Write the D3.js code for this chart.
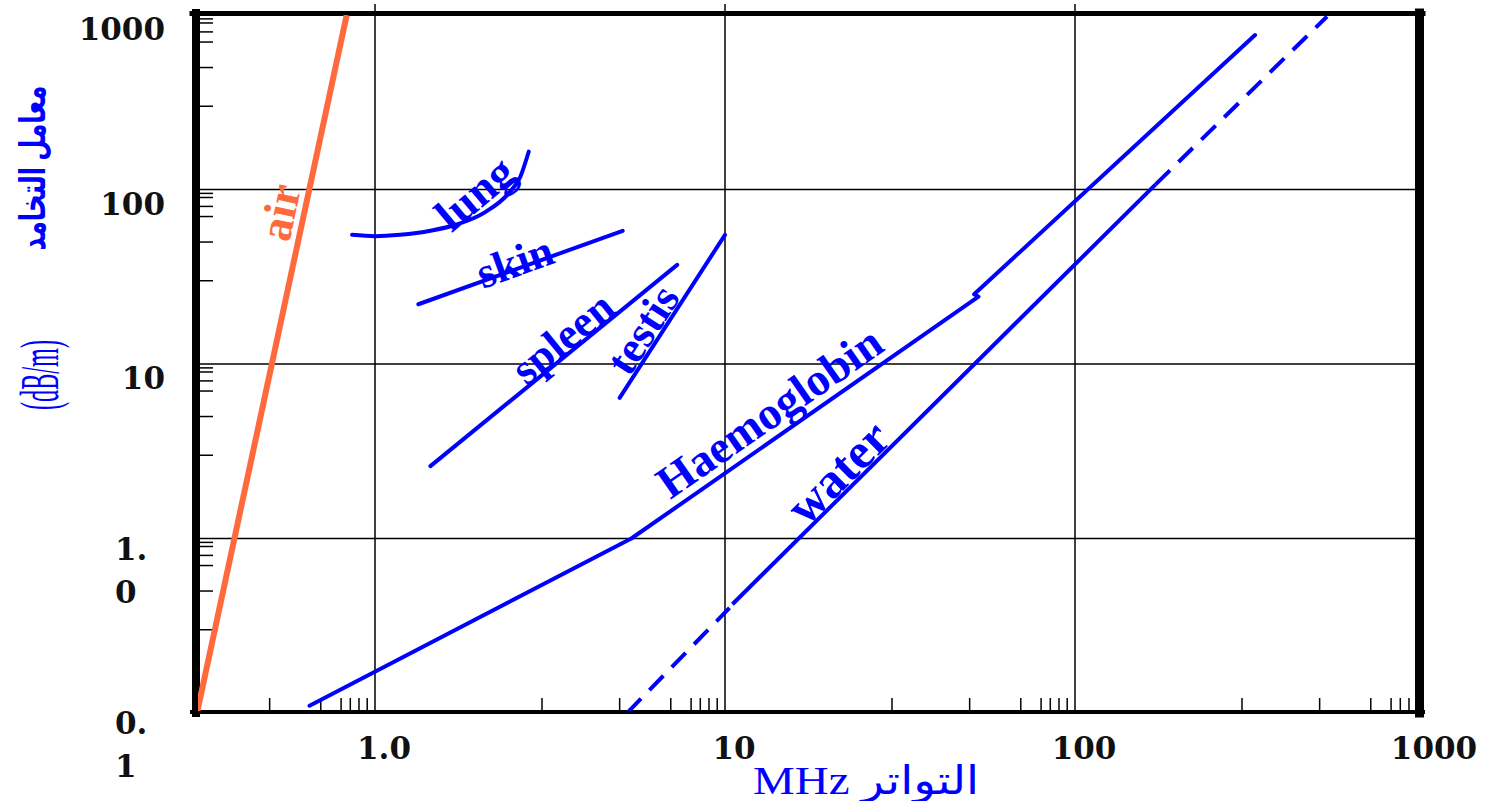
<!DOCTYPE html>
<html>
<head>
<meta charset="utf-8">
<script src="https://cdn.jsdelivr.net/npm/d3@7"></script>
<style>
  body { margin: 0; background: #fff; }
</style>
</head>
<body>
<div id="chart"></div>
<script>
// attenuation coefficient vs frequency, log-log
const airPts    = [[0.31, 0.1], [0.83, 1000]];
const lungPts   = [[0.86, 55], [1.0, 54], [1.18, 55], [1.44, 58], [1.71, 63], [2.06, 74], [2.43, 97], [2.6, 118], [2.75, 165]];
const skinPts   = [[1.33, 22], [5.1, 58]];
const spleenPts = [[1.44, 2.6], [7.3, 37]];
const testisPts = [[5.0, 6.4], [10, 55]];
const haemoPts  = [[0.65, 0.11], [5.4, 1.0], [53, 24.3], [51.5, 25.1], [327, 768]];
const waterPts  = [[5.25, 0.1], [10.3, 0.4], [10.5, 0.42], [170, 107], [525, 980]];
const waterDashed = [true, null, false, true];   // null = gap

const xMajor = [1, 10, 100, 1000];
const xMajorLabels = ["1.0", "10", "100", "1000"];
const yMajor = [0.1, 1, 10, 100, 1000];
const yMajorLabels = [["0.", "1"], ["1.", "0"], ["10"], ["100"], ["1000"]];
const gridVals = [1, 10, 100];
const decades = [0.1, 1, 10, 100];
const xMinorMult = [3, 5, 7, 8, 8.5, 9, 9.5];
const yMinorMult = [3, 5, 7, 8, 9, 9.5];

// curve names and where they sit (data coords of the text centre)
const curveNames = ["air", "lung", "skin", "spleen", "testis", "Haemoglobin", "water"];
const namePos = [[0.535, 74], [1.93, 95], [2.51, 38.4], [3.44, 14.1], [5.83, 15.7], [13.4, 5.3], [21, 2.4]];

const W = 1499, H = 801;
const blue = "#0000ff", orange = "#ff6a3d";

const svg = d3.select("#chart").append("svg")
  .attr("width", W).attr("height", H)
  .style("font-family", "'Liberation Serif', 'DejaVu Sans', serif");

const x = d3.scaleLog().domain([0.3, 1000]).range([192, 1425]);
const y = d3.scaleLog().domain([0.1, 1000]).range([713, 15]);

const L = x.range()[0], R = x.range()[1], T = y.range()[1], B = y.range()[0];

svg.append("defs").append("clipPath").attr("id", "plot")
  .append("rect").attr("x", L + 6).attr("y", T).attr("width", R - L - 14).attr("height", B - T - 2);

// grid
svg.selectAll(".vgrid").data(gridVals).enter().append("line")
  .attr("x1", d => x(d)).attr("x2", d => x(d))
  .attr("y1", 4).attr("y2", B - 2)
  .attr("stroke", "#000").attr("stroke-width", 1.5);
svg.selectAll(".hgrid").data(gridVals).enter().append("line")
  .attr("x1", L + 6).attr("x2", R - 8)
  .attr("y1", d => y(d)).attr("y2", d => y(d))
  .attr("stroke", "#000").attr("stroke-width", 1.5);

// minor ticks
const xMinor = [];
decades.forEach(d => xMinorMult.forEach(m => { const v = d * m; if (v > 0.31 && v < 1000) xMinor.push(v); }));
const yMinor = [];
decades.forEach(d => yMinorMult.forEach(m => { const v = d * m; if (v > 0.1 && v < 1000) yMinor.push(v); }));

svg.selectAll(".xminor").data(xMinor).enter().append("line")
  .attr("x1", d => x(d)).attr("x2", d => x(d))
  .attr("y1", B - 2).attr("y2", B - 15)
  .attr("stroke", "#000").attr("stroke-width", 1.5);
svg.selectAll(".yminor").data(yMinor).enter().append("line")
  .attr("x1", L + 6).attr("x2", L + 21)
  .attr("y1", d => y(d)).attr("y2", d => y(d))
  .attr("stroke", "#000").attr("stroke-width", 1.5);

// frame
const frame = svg.append("g").attr("stroke", "#000").attr("stroke-linecap", "square");
frame.append("line").attr("x1", L + 4).attr("x2", L + 4).attr("y1", T - 2).attr("y2", B).attr("stroke-width", 8);
frame.append("line").attr("x1", L).attr("x2", R - 2).attr("y1", T - 1.5).attr("y2", T - 1.5).attr("stroke-width", 5);
frame.append("line").attr("x1", R - 5.5).attr("x2", R - 5.5).attr("y1", T - 2).attr("y2", B).attr("stroke-width", 9);
frame.append("line").attr("x1", L).attr("x2", R - 2).attr("y1", B - 1).attr("y2", B - 1).attr("stroke-width", 4);

// tick labels
const tickFont = "'DejaVu Serif', serif";
svg.selectAll(".xlab").data(xMajor).enter().append("text")
  .attr("x", d => x(d) + 9).attr("y", 759)
  .attr("text-anchor", "middle")
  .style("font-family", tickFont).style("font-weight", "bold").style("font-size", "31px")
  .attr("fill", "#111")
  .text((d, i) => xMajorLabels[i]);

yMajor.forEach((v, i) => {
  const lines = yMajorLabels[i];
  const t = svg.append("text")
    .style("font-family", tickFont).style("font-weight", "bold").style("font-size", "31px")
    .attr("fill", "#111");
  if (lines.length === 1) {
    t.attr("x", 165).attr("y", y(v) + 25).attr("text-anchor", "end").text(lines[0]);
  } else {
    lines.forEach((s, j) => {
      t.append("tspan").attr("x", 115).attr("y", y(v) + 21 + j * 43).text(s);
    });
  }
});

// curves
const line = d3.line().x(d => x(d[0])).y(d => y(d[1]));
const plot = svg.append("g").attr("clip-path", "url(#plot)").attr("fill", "none");

plot.append("path").datum(airPts).attr("d", line)
  .attr("stroke", orange).attr("stroke-width", 6);

plot.append("path").datum(lungPts).attr("d", line.curve(d3.curveMonotoneX))
  .attr("stroke", blue).attr("stroke-width", 4).attr("stroke-linecap", "round");
line.curve(d3.curveLinear);

[skinPts, spleenPts, testisPts, haemoPts].forEach(pts => {
  plot.append("path").datum(pts).attr("d", line)
    .attr("stroke", blue).attr("stroke-width", 4)
    .attr("stroke-linecap", "round").attr("stroke-linejoin", "round");
});

waterDashed.forEach((dash, i) => {
  if (dash === null) return;
  plot.append("path").datum([waterPts[i], waterPts[i + 1]]).attr("d", line)
    .attr("stroke", blue).attr("stroke-width", 4)
    .attr("stroke-dasharray", dash ? "20,12" : null);
});

// curve names, rotated along their line
function segAngle(pts, i) {
  const a = pts[i], b = pts[i + 1];
  return Math.atan2(y(b[1]) - y(a[1]), x(b[0]) - x(a[0])) * 180 / Math.PI;
}
const nameAngle = [
  segAngle(airPts, 0), -40, segAngle(skinPts, 0), segAngle(spleenPts, 0),
  segAngle(testisPts, 0), segAngle(haemoPts, 1), segAngle(waterPts, 2)
];
const nameSize = [46, 46, 44, 44, 44, 46, 50];

curveNames.forEach((name, i) => {
  const px = x(namePos[i][0]), py = y(namePos[i][1]);
  svg.append("text")
    .attr("transform", `translate(${px},${py}) rotate(${nameAngle[i]})`)
    .attr("text-anchor", "middle").attr("dominant-baseline", "central")
    .style("font-weight", "bold").style("font-size", nameSize[i] + "px")
    .attr("fill", i === 0 ? orange : blue)
    .text(name);
});

// axis titles
svg.append("text")
  .attr("x", 866).attr("y", 794)
  .attr("text-anchor", "middle")
  .style("font-size", "39px")
  .attr("textLength", 226).attr("lengthAdjust", "spacingAndGlyphs")
  .attr("fill", blue)
  .text("MHz التواتر");

svg.append("text")
  .attr("transform", "translate(40,375) rotate(-90)")
  .attr("text-anchor", "middle").attr("dominant-baseline", "central")
  .style("font-size", "54px")
  .attr("textLength", 70).attr("lengthAdjust", "spacingAndGlyphs")
  .attr("fill", blue)
  .text("(dB/m)");

svg.append("text")
  .attr("transform", "translate(33,168) rotate(-90)")
  .attr("text-anchor", "middle").attr("dominant-baseline", "central")
  .style("font-size", "36px").style("font-weight", "bold")
  .attr("textLength", 165).attr("lengthAdjust", "spacingAndGlyphs")
  .attr("fill", blue)
  .text("معامل التخامد");
</script>
</body>
</html>
